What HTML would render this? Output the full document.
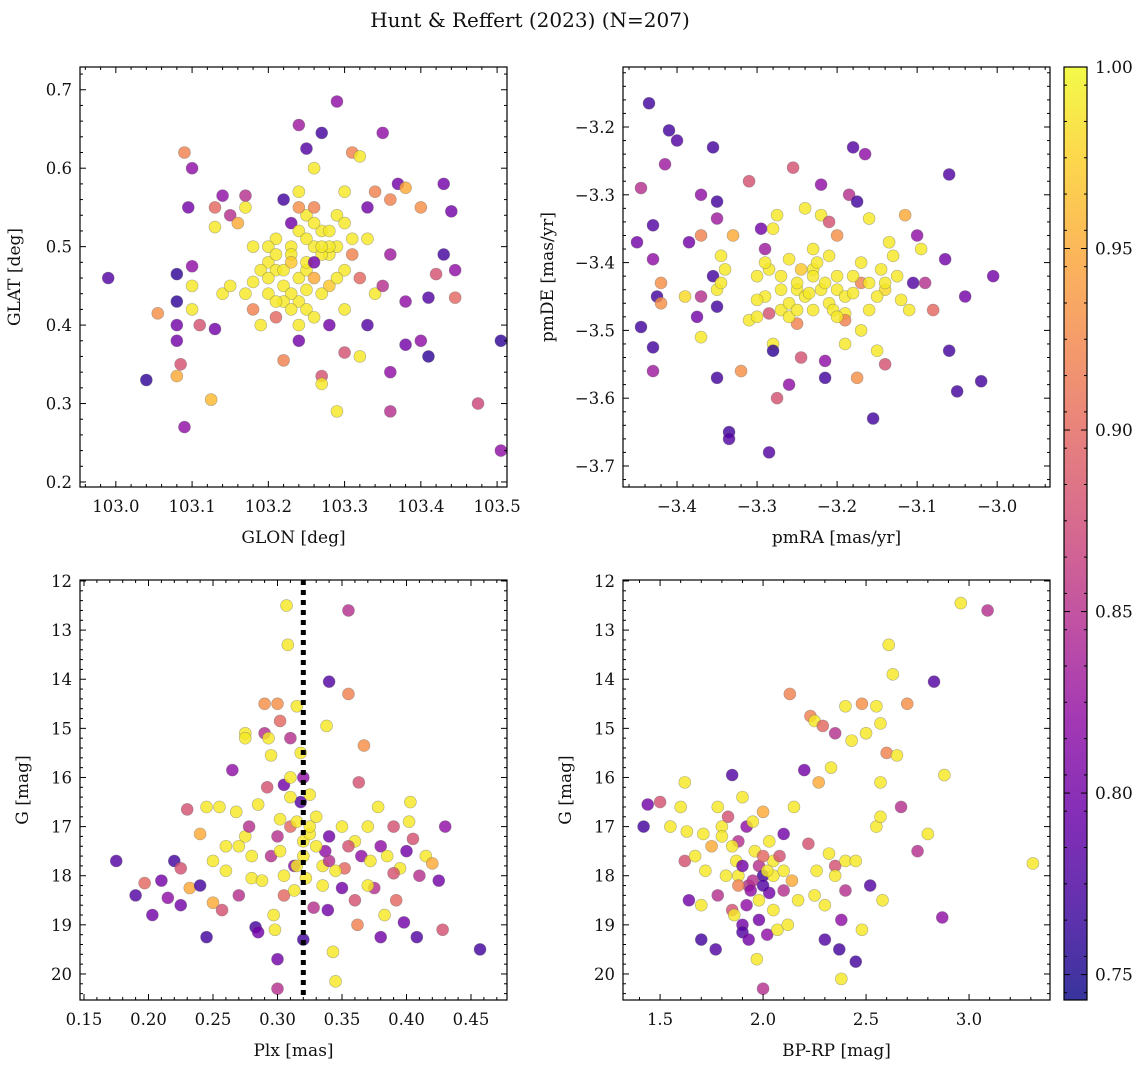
<!DOCTYPE html>
<html><head><meta charset="utf-8">
<style>
html,body{margin:0;padding:0;background:#fff;}
svg{display:block;font-family:"DejaVu Serif","Liberation Serif",serif;}
</style></head>
<body>
<svg id="fig" width="1148" height="1067" viewBox="0 0 1148 1067" xmlns="http://www.w3.org/2000/svg">
<text x="530" y="27" font-size="20" text-anchor="middle" fill="#111">Hunt &amp; Reffert (2023) (N=207)</text>
</svg>
<script>
// ---- data ----
const tlX=[102.99,103.04,103.055,103.08,103.08,103.08,103.08,103.08,103.085,103.09,103.095,103.09,103.10,103.10,103.10,103.10,103.11,103.125,103.13,103.13,103.13,103.14,103.14,103.15,103.15,103.16,103.17,103.17,103.18,103.18,103.18,103.19,103.20,103.20,103.21,103.21,103.21,103.22,103.22,103.22,103.23,103.23,103.23,103.24,103.24,103.24,103.24,103.24,103.25,103.25,103.25,103.25,103.26,103.26,103.26,103.27,103.27,103.27,103.27,103.28,103.28,103.28,103.29,103.29,103.29,103.29,103.30,103.30,103.30,103.30,103.31,103.31,103.32,103.32,103.32,103.33,103.33,103.34,103.34,103.35,103.35,103.36,103.36,103.36,103.36,103.37,103.38,103.38,103.38,103.40,103.40,103.41,103.41,103.42,103.43,103.43,103.44,103.445,103.445,103.475,103.505,103.505,
 103.20,103.21,103.22,103.23,103.23,103.24,103.25,103.25,103.26,103.26,103.27,103.27,103.28,103.22,103.24,103.19,103.20,103.26,103.28,103.29,103.31,103.23,103.25,103.27,103.21,103.24,103.30,103.33,103.17,103.26];
const tlY=[0.46,0.33,0.415,0.465,0.43,0.40,0.38,0.335,0.35,0.62,0.55,0.27,0.60,0.475,0.45,0.42,0.40,0.305,0.395,0.55,0.525,0.565,0.44,0.54,0.45,0.53,0.565,0.55,0.50,0.455,0.42,0.40,0.48,0.44,0.51,0.47,0.41,0.56,0.45,0.355,0.53,0.50,0.49,0.655,0.57,0.46,0.43,0.38,0.625,0.54,0.47,0.42,0.60,0.55,0.50,0.645,0.52,0.335,0.325,0.49,0.45,0.40,0.685,0.54,0.50,0.29,0.57,0.47,0.42,0.365,0.62,0.51,0.615,0.46,0.36,0.55,0.40,0.57,0.44,0.645,0.45,0.49,0.56,0.34,0.29,0.58,0.375,0.43,0.575,0.38,0.55,0.36,0.435,0.465,0.58,0.49,0.545,0.435,0.47,0.30,0.38,0.24,
 0.50,0.49,0.47,0.48,0.44,0.52,0.51,0.48,0.46,0.53,0.49,0.44,0.52,0.43,0.40,0.47,0.46,0.48,0.50,0.46,0.49,0.42,0.445,0.50,0.43,0.55,0.53,0.51,0.44,0.41];
const tlP=[0.78,0.76,0.93,0.76,0.76,0.8,0.8,0.95,0.88,0.92,0.8,0.82,0.82,0.82,0.99,0.99,0.88,0.96,0.8,0.9,0.99,0.82,0.99,0.85,0.99,0.95,0.85,0.99,0.99,0.99,0.92,0.99,0.99,0.99,0.99,0.99,0.9,0.77,0.99,0.92,0.8,0.99,0.99,0.83,0.99,0.99,0.99,0.8,0.78,0.99,0.99,0.99,0.99,0.92,0.99,0.77,0.99,0.88,0.99,0.99,0.97,0.8,0.82,0.99,0.99,0.99,0.99,0.99,0.99,0.88,0.92,0.99,0.99,0.9,0.99,0.8,0.78,0.92,0.99,0.82,0.85,0.83,0.92,0.82,0.85,0.8,0.8,0.82,0.95,0.82,0.93,0.76,0.78,0.88,0.8,0.77,0.8,0.9,0.82,0.87,0.76,0.82,
 0.99,0.99,0.99,0.97,0.99,0.99,0.99,0.99,0.95,0.99,0.99,0.99,0.99,0.99,0.99,0.99,0.99,0.8,0.99,0.99,0.92,0.99,0.99,0.99,0.99,0.93,0.99,0.99,0.99,0.99];

const trX=[-3.435,-3.41,-3.40,-3.355,-3.415,-3.445,-3.37,-3.35,-3.35,-3.43,-3.45,-3.43,-3.42,-3.425,-3.42,-3.445,-3.43,-3.43,-3.385,-3.37,-3.39,-3.37,-3.375,-3.37,-3.355,-3.35,-3.345,-3.35,-3.35,-3.345,-3.34,-3.335,-3.335,-3.33,-3.32,-3.31,-3.30,-3.31,-3.295,-3.29,-3.285,-3.28,-3.29,-3.285,-3.28,-3.275,-3.27,-3.27,-3.28,-3.275,-3.285,-3.26,-3.255,-3.25,-3.25,-3.245,-3.24,-3.23,-3.23,-3.22,-3.22,-3.215,-3.215,-3.21,-3.21,-3.20,-3.20,-3.19,-3.19,-3.185,-3.18,-3.175,-3.17,-3.17,-3.17,-3.165,-3.16,-3.16,-3.155,-3.15,-3.145,-3.14,-3.14,-3.135,-3.13,-3.125,-3.12,-3.115,-3.11,-3.105,-3.10,-3.095,-3.09,-3.08,-3.065,-3.06,-3.06,-3.05,-3.04,-3.02,-3.005,-3.175,-3.19,-3.3,-3.26,
 -3.25,-3.24,-3.23,-3.22,-3.21,-3.20,-3.26,-3.245,-3.235,-3.225,-3.215,-3.205,-3.19,-3.18,-3.27,-3.26,-3.15,-3.16,-3.2,-3.23,-3.29,-3.3,-3.18,-3.14,-3.25];
const trY=[-3.165,-3.205,-3.22,-3.23,-3.255,-3.29,-3.30,-3.31,-3.335,-3.345,-3.37,-3.395,-3.43,-3.45,-3.46,-3.495,-3.525,-3.56,-3.37,-3.36,-3.45,-3.45,-3.48,-3.51,-3.42,-3.44,-3.43,-3.465,-3.57,-3.39,-3.41,-3.65,-3.66,-3.36,-3.56,-3.485,-3.48,-3.28,-3.35,-3.38,-3.41,-3.35,-3.45,-3.475,-3.52,-3.33,-3.42,-3.47,-3.53,-3.6,-3.68,-3.58,-3.26,-3.44,-3.49,-3.54,-3.32,-3.41,-3.47,-3.285,-3.33,-3.545,-3.57,-3.34,-3.39,-3.36,-3.44,-3.475,-3.52,-3.3,-3.23,-3.31,-3.4,-3.43,-3.5,-3.24,-3.335,-3.47,-3.63,-3.53,-3.41,-3.44,-3.55,-3.37,-3.39,-3.42,-3.455,-3.33,-3.47,-3.43,-3.36,-3.38,-3.43,-3.47,-3.395,-3.27,-3.53,-3.59,-3.45,-3.575,-3.42,-3.57,-3.485,-3.42,-3.395,
 -3.43,-3.45,-3.42,-3.44,-3.46,-3.42,-3.46,-3.41,-3.445,-3.40,-3.43,-3.47,-3.45,-3.42,-3.44,-3.48,-3.45,-3.43,-3.48,-3.38,-3.40,-3.455,-3.445,-3.43,-3.47];
const trP=[0.77,0.77,0.78,0.77,0.83,0.85,0.82,0.77,0.83,0.78,0.8,0.82,0.93,0.77,0.93,0.77,0.77,0.83,0.8,0.92,0.98,0.85,0.8,0.99,0.77,0.99,0.99,0.77,0.77,0.99,0.99,0.77,0.78,0.95,0.93,0.99,0.99,0.88,0.8,0.83,0.99,0.99,0.99,0.88,0.99,0.99,0.99,0.99,0.76,0.88,0.78,0.82,0.88,0.99,0.92,0.88,0.99,0.99,0.99,0.82,0.99,0.82,0.77,0.88,0.99,0.93,0.99,0.99,0.99,0.85,0.78,0.77,0.99,0.92,0.99,0.82,0.99,0.99,0.77,0.99,0.99,0.98,0.88,0.99,0.99,0.99,0.99,0.95,0.99,0.78,0.82,0.99,0.85,0.9,0.8,0.78,0.77,0.77,0.8,0.77,0.8,0.93,0.92,0.99,0.99,
 0.99,0.99,0.99,0.99,0.99,0.99,0.99,0.97,0.99,0.99,0.99,0.99,0.99,0.99,0.99,0.99,0.99,0.99,0.99,0.99,0.99,0.99,0.99,0.99,0.99];

const blX=[0.175,0.19,0.197,0.203,0.21,0.215,0.22,0.225,0.225,0.23,0.232,0.24,0.24,0.245,0.245,0.25,0.25,0.255,0.257,0.26,0.26,0.265,0.268,0.27,0.275,0.275,0.275,0.278,0.28,0.283,0.285,0.285,0.288,0.29,0.29,0.292,0.293,0.295,0.295,0.297,0.298,0.3,0.302,0.302,0.302,0.305,0.305,0.3,0.3,0.307,0.308,0.31,0.31,0.31,0.313,0.313,0.315,0.318,0.318,0.32,0.32,0.322,0.325,0.325,0.328,0.33,0.335,0.337,0.338,0.339,0.34,0.343,0.345,0.34,0.35,0.352,0.355,0.355,0.36,0.362,0.363,0.365,0.367,0.37,0.372,0.375,0.378,0.38,0.38,0.383,0.385,0.39,0.392,0.395,0.398,0.4,0.402,0.403,0.405,0.408,0.41,0.415,0.42,0.425,0.428,0.43,0.457,0.37,0.39,0.35,
 0.31,0.315,0.32,0.325,0.33,0.3,0.305,0.335,0.34,0.345,0.28,0.27,0.36,0.355,0.315,0.32];
const blY=[17.7,18.4,18.15,18.8,18.1,18.45,17.7,17.85,18.6,16.65,18.25,18.2,17.15,19.25,16.6,17.7,18.55,16.6,18.7,17.9,17.4,15.85,16.7,18.4,15.1,15.2,17.2,17.0,18.05,19.05,19.15,16.55,18.1,14.5,15.1,16.2,15.2,15.55,17.6,18.8,19.1,14.5,14.85,16.85,17.5,16.15,18.4,19.7,20.3,12.5,13.3,15.2,16.0,17.0,17.8,18.3,14.55,15.5,16.5,19.3,17.3,18.05,16.35,17.15,18.65,16.8,17.8,17.5,14.95,18.7,17.2,19.55,20.15,14.05,17.0,17.85,14.3,12.6,18.5,19.0,16.1,17.6,15.35,17.0,17.7,18.25,16.6,17.4,19.25,18.8,17.6,17.0,18.5,17.85,18.95,17.5,16.9,16.5,17.25,19.25,18.0,17.6,17.75,18.1,19.1,17.0,19.5,18.2,17.95,18.25,
 16.4,16.9,17.6,17.0,17.4,17.2,18.0,18.2,17.7,17.9,17.6,17.4,17.3,17.4,17.8,16.0];
const blP=[0.78,0.78,0.9,0.8,0.8,0.82,0.77,0.88,0.8,0.88,0.95,0.77,0.95,0.77,0.99,0.99,0.95,0.99,0.88,0.99,0.99,0.82,0.99,0.85,0.99,0.99,0.99,0.85,0.99,0.77,0.8,0.99,0.99,0.93,0.85,0.88,0.99,0.99,0.85,0.99,0.99,0.93,0.9,0.99,0.99,0.8,0.9,0.8,0.85,0.99,0.99,0.85,0.99,0.9,0.82,0.99,0.99,0.99,0.78,0.77,0.99,0.99,0.99,0.99,0.85,0.99,0.99,0.82,0.99,0.8,0.8,0.99,0.99,0.78,0.99,0.9,0.92,0.85,0.88,0.92,0.88,0.82,0.93,0.99,0.99,0.85,0.99,0.82,0.8,0.99,0.99,0.88,0.9,0.99,0.8,0.8,0.99,0.99,0.88,0.78,0.85,0.99,0.95,0.8,0.88,0.82,0.77,0.99,0.88,0.8,
 0.99,0.99,0.99,0.99,0.99,0.85,0.99,0.99,0.85,0.99,0.99,0.99,0.99,0.88,0.99,0.82];
const plxMedian=0.32;

const brX=[1.42,1.44,1.5,1.55,1.6,1.62,1.62,1.63,1.64,1.67,1.7,1.7,1.71,1.72,1.75,1.77,1.78,1.78,1.8,1.82,1.83,1.85,1.85,1.86,1.87,1.88,1.9,1.9,1.9,1.92,1.93,1.93,1.95,1.96,1.97,1.98,1.98,2.0,2.0,2.0,2.02,2.03,2.03,2.05,2.05,2.07,2.1,2.1,2.12,2.13,2.14,2.15,2.17,2.2,2.22,2.23,2.25,2.26,2.27,2.29,2.3,2.3,2.32,2.33,2.35,2.35,2.37,2.38,2.38,2.4,2.4,2.43,2.45,2.45,2.48,2.48,2.5,2.52,2.55,2.55,2.57,2.57,2.57,2.58,2.6,2.61,2.63,2.65,2.67,2.7,2.75,2.8,2.83,2.87,2.88,2.96,3.09,3.31,2.25,1.88,2.0,
 1.9,1.95,2.0,2.05,1.85,1.92,1.98,2.02,2.08,1.8,1.94,2.1,2.35,2.4,1.88];
const brY=[17.0,16.55,16.5,17.0,16.6,16.1,17.7,17.1,18.5,17.6,19.3,18.6,17.15,17.9,17.4,19.5,16.6,18.4,17.0,18.0,16.8,15.95,18.7,18.8,17.7,17.3,16.4,19.0,19.15,17.0,18.2,19.3,16.9,17.5,19.7,17.8,18.5,20.3,16.7,18.0,19.2,18.35,17.3,17.7,18.7,19.1,17.15,18.3,19.0,14.3,18.1,16.6,18.5,15.85,17.35,14.75,14.85,17.9,16.1,14.95,19.3,18.6,17.55,15.8,15.1,17.8,19.5,20.1,18.9,14.55,17.7,15.25,17.7,19.75,14.5,19.1,15.1,18.2,14.55,17.0,14.9,16.1,16.8,18.5,15.5,13.3,13.9,15.55,16.6,14.5,17.5,17.15,14.05,18.85,15.95,12.45,12.6,17.75,18.4,18.0,17.6,
 17.8,18.1,18.2,18.0,17.4,18.6,18.9,17.9,17.6,17.2,18.3,17.9,18.0,18.3,18.2];
const brP=[0.77,0.8,0.88,0.99,0.99,0.99,0.88,0.99,0.8,0.99,0.77,0.99,0.99,0.99,0.95,0.78,0.99,0.85,0.99,0.99,0.88,0.78,0.88,0.99,0.99,0.85,0.99,0.8,0.78,0.82,0.85,0.8,0.99,0.99,0.99,0.85,0.99,0.85,0.95,0.77,0.82,0.8,0.99,0.99,0.99,0.99,0.8,0.85,0.99,0.92,0.95,0.99,0.99,0.8,0.88,0.92,0.99,0.99,0.95,0.9,0.78,0.99,0.99,0.99,0.85,0.88,0.77,0.99,0.82,0.99,0.99,0.99,0.99,0.77,0.93,0.99,0.99,0.78,0.99,0.99,0.99,0.99,0.99,0.99,0.92,0.99,0.99,0.99,0.85,0.93,0.85,0.99,0.78,0.82,0.99,0.99,0.85,0.99,0.99,0.99,0.9,
 0.8,0.85,0.78,0.99,0.99,0.82,0.8,0.99,0.88,0.99,0.82,0.99,0.99,0.85,0.92];

const cbTicks=[0.75,0.80,0.85,0.90,0.95,1.00];
const cMin=0.743, cMax=1.0;

// ---- helpers ----
const NS="http://www.w3.org/2000/svg";
const svg=document.getElementById('fig');
function mk(tag,attrs,parent){const e=document.createElementNS(NS,tag);for(const k in attrs)e.setAttribute(k,attrs[k]);(parent||svg).appendChild(e);return e;}
const stops=[[13,8,135],[65,4,157],[106,0,168],[143,13,164],[177,42,144],[204,71,120],[225,100,98],[242,132,75],[252,166,54],[252,206,37],[240,249,33]];
function plasma(t){t=Math.max(0,Math.min(1,t));const f=t*10,i=Math.min(9,Math.floor(f)),r=f-i;const a=stops[i],b=stops[i+1];return 'rgb('+a.map((v,k)=>Math.round(v+(b[k]-v)*r)).join(',')+')';}
function fmt(v,d){let s=v.toFixed(d);return s.replace('-','\u2212');}

function panel(o){
  const g=mk('g',{});
  
  
  const sx=v=>o.x0+(v-o.xmin)/(o.xmax-o.xmin)*(o.x1-o.x0);
  const sy=o.invert? v=>o.y0+(v-o.ymin)/(o.ymax-o.ymin)*(o.y1-o.y0) : v=>o.y1-(v-o.ymin)/(o.ymax-o.ymin)*(o.y1-o.y0);
  const pg=mk('g',{},g);
  
  
  for(let i=0;i<o.X.length;i++){
    const c=mk('circle',{cx:sx(o.X[i]),cy:sy(o.Y[i]),r:6,fill:plasma((o.P[i]-cMin)/(cMax-cMin)),'fill-opacity':0.82,stroke:'#666','stroke-opacity':0.5,'stroke-width':0.6},pg);
    
    
  }
  if(o.extra) o.extra(g,sx,sy);
  const fr=mk('rect',{x:o.x0,y:o.y0,width:o.x1-o.x0,height:o.y1-o.y0,fill:'none',stroke:'#000','stroke-width':1.2},g);
  
  
  const lo=Math.min(o.xmin,o.xmax), hi=Math.max(o.xmin,o.xmax);
  for(let v=Math.ceil(lo/o.xminor-1e-6)*o.xminor; v<=hi+1e-9; v+=o.xminor){
    const vv=Math.round(v/o.xminor)*o.xminor;
    const maj=Math.abs(vv/o.xmajor-Math.round(vv/o.xmajor))<1e-6;
    const L=maj?6:3, x=sx(vv);
    mk('line',{x1:x,x2:x,y1:o.y1,y2:o.y1-L,stroke:'#000','stroke-width':1},g);
    mk('line',{x1:x,x2:x,y1:o.y0,y2:o.y0+L,stroke:'#000','stroke-width':1},g);
    if(maj){const t=mk('text',{x:x,y:o.y1+25,'font-size':16.5,'text-anchor':'middle',fill:'#111'},g);t.textContent=fmt(vv,o.xdec);
      
      }
  }
  const ylo=Math.min(o.ymin,o.ymax), yhi=Math.max(o.ymin,o.ymax);
  for(let v=Math.ceil(ylo/o.yminor-1e-6)*o.yminor; v<=yhi+1e-9; v+=o.yminor){
    const vv=Math.round(v/o.yminor)*o.yminor;
    const maj=Math.abs(vv/o.ymajor-Math.round(vv/o.ymajor))<1e-6;
    const L=maj?6:3, y=sy(vv);
    mk('line',{x1:o.x0,x2:o.x0+L,y1:y,y2:y,stroke:'#000','stroke-width':1},g);
    mk('line',{x1:o.x1,x2:o.x1-L,y1:y,y2:y,stroke:'#000','stroke-width':1},g);
    if(maj){const t=mk('text',{x:o.x0-8,y:y+6,'font-size':16.5,'text-anchor':'end',fill:'#111'},g);t.textContent=fmt(vv,o.ydec);
      
      }
  }
  const xl=mk('text',{x:(o.x0+o.x1)/2,y:o.y1+56,'font-size':17,'text-anchor':'middle',fill:'#111'},g);xl.textContent=o.xlabel;
  
  
  const yx=o.x0-o.ylabOff, yy=(o.y0+o.y1)/2;
  const yl=mk('text',{x:yx,y:yy,'font-size':17,'text-anchor':'middle',fill:'#111',transform:'rotate(-90 '+yx+' '+yy+')'},g);yl.textContent=o.ylabel;
  
  
}

panel({name:'glon-glat-panel',x0:80,x1:507,y0:67,y1:487,xmin:102.953,xmax:103.513,ymin:0.1936,ymax:0.729,
  xmajor:0.1,xminor:0.02,ymajor:0.1,yminor:0.02,xdec:1,ydec:1,X:tlX,Y:tlY,P:tlP,xlabel:'GLON [deg]',ylabel:'GLAT [deg]',ylabOff:60});
panel({name:'pm-panel',x0:623,x1:1050,y0:67,y1:487,xmin:-3.4675,xmax:-2.934,ymin:-3.731,ymax:-3.1115,
  xmajor:0.1,xminor:0.02,ymajor:0.1,yminor:0.02,xdec:1,ydec:1,X:trX,Y:trY,P:trP,xlabel:'pmRA [mas/yr]',ylabel:'pmDE [mas/yr]',ylabOff:70});
panel({name:'plx-g-panel',x0:80,x1:507,y0:580,y1:1000,xmin:0.1469,xmax:0.4779,ymin:11.98,ymax:20.53,invert:true,
  xmajor:0.05,xminor:0.01,ymajor:1,yminor:0.2,xdec:2,ydec:0,X:blX,Y:blY,P:blP,xlabel:'Plx [mas]',ylabel:'G [mag]',ylabOff:52,
  extra:(g,sx,sy)=>{const l=mk('line',{x1:sx(plxMedian),x2:sx(plxMedian),y1:580,y2:1000,stroke:'#000','stroke-width':5,'stroke-dasharray':'5,5'},g);
    
    }});
panel({name:'cmd-panel',x0:623,x1:1050,y0:580,y1:1000,xmin:1.32,xmax:3.393,ymin:11.98,ymax:20.53,invert:true,
  xmajor:0.5,xminor:0.1,ymajor:1,yminor:0.2,xdec:1,ydec:0,X:brX,Y:brY,P:brP,xlabel:'BP-RP [mag]',ylabel:'G [mag]',ylabOff:52});

// colorbar
const cb=mk('g',{});


const defs=mk('defs',{},cb);
const grad=mk('linearGradient',{id:'cbg',x1:0,y1:1,x2:0,y2:0},defs);
for(let i=0;i<=10;i++){mk('stop',{offset:i/10,'stop-color':plasma(i/10),'stop-opacity':0.82},grad);}
mk('rect',{x:1064,y:67,width:23,height:933,fill:'url(#cbg)',stroke:'#000','stroke-width':1.2},cb);
const cy=v=>1000-(v-cMin)/(cMax-cMin)*933;
for(let v=0.745;v<=1.0001;v+=0.01){const y=cy(v);mk('line',{x1:1087,x2:1084,y1:y,y2:y,stroke:'#000'},cb);mk('line',{x1:1064,x2:1067,y1:y,y2:y,stroke:'#000'},cb);}
cbTicks.forEach(v=>{const y=cy(v);mk('line',{x1:1087,x2:1081,y1:y,y2:y,stroke:'#000'},cb);mk('line',{x1:1064,x2:1070,y1:y,y2:y,stroke:'#000'},cb);
  const t=mk('text',{x:1095,y:y+6,'font-size':17,fill:'#111'},cb);t.textContent=v.toFixed(2);
  
  });
</script>
</body></html>
